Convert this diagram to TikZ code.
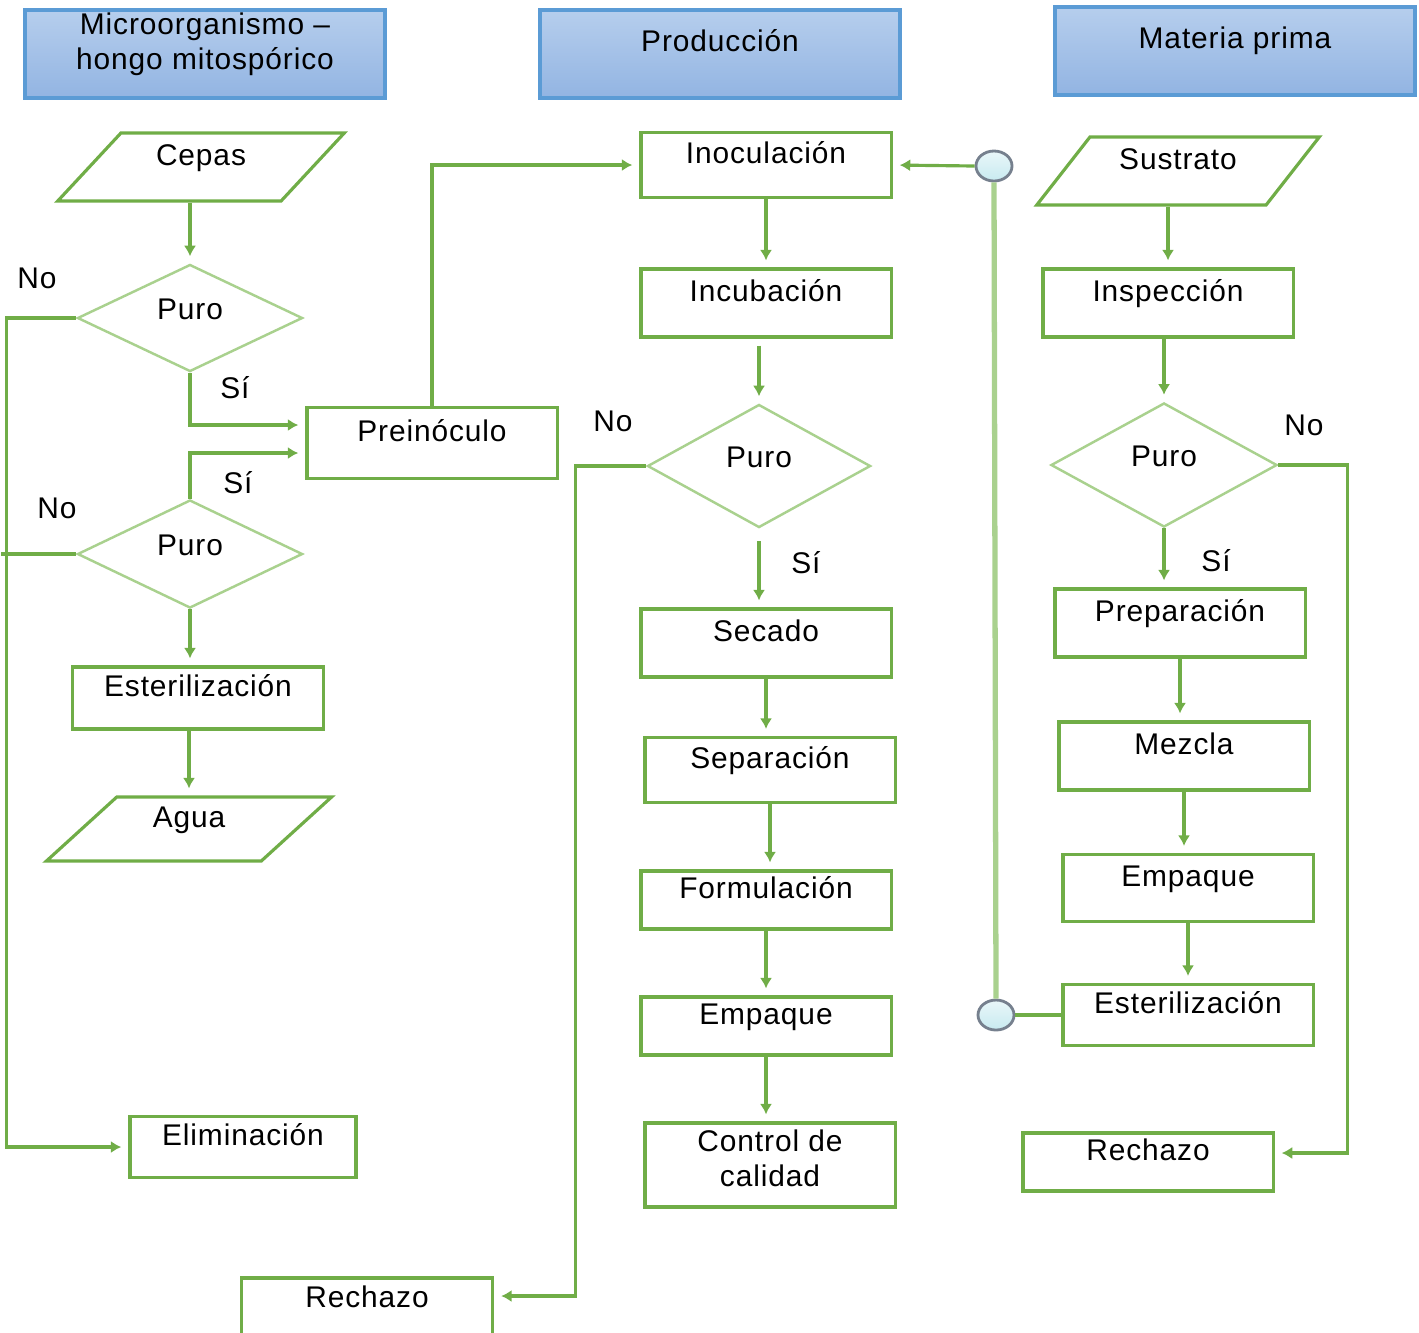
\documentclass[tikz,border=0pt]{standalone}
\usepackage{fontspec}
\setmainfont{Liberation Sans}[LetterSpace=3]
\usepackage{tikz}
\usetikzlibrary{arrows.meta,shapes.geometric}
\definecolor{VerdeLinea}{RGB}{112,173,71}
\definecolor{VerdeClaro}{RGB}{169,209,142}
\definecolor{AzulBorde}{RGB}{91,155,213}
\definecolor{AzulArriba}{RGB}{182,206,237}
\definecolor{AzulAbajo}{RGB}{146,180,226}
\definecolor{GrisCirculo}{RGB}{118,128,142}
\definecolor{CelesteCirculo}{RGB}{200,234,240}

\begin{document}
\begin{tikzpicture}[x=0.01cm,y=-0.01cm,
    font=\fontsize{8.5}{10}\selectfont,
    encabezado/.style={draw=AzulBorde,line width=1.2pt,top color=AzulArriba,bottom color=AzulAbajo,
      minimum width=3.6cm,minimum height=0.88cm,inner sep=0pt,align=center,text depth=7.5pt},
    caja/.style={draw=VerdeLinea,line width=0.9pt,minimum width=2.5cm,inner sep=0pt,text depth=7pt},
    datos/.style={trapezium,trapezium left angle=52,trapezium right angle=128,trapezium stretches=true,
      draw=VerdeLinea,line width=0.9pt,inner sep=0pt,text depth=7pt},
    decision/.style={diamond,draw=VerdeClaro,line width=0.7pt,inner sep=0pt,text depth=5pt},
    conector/.style={ellipse,draw=GrisCirculo,line width=0.8pt,top color=CelesteCirculo!40!white,
      bottom color=CelesteCirculo,minimum width=0.36cm,minimum height=0.3cm,inner sep=0pt},
    flecha/.style={draw=VerdeLinea,line width=0.9pt,-{Latex[length=3pt,width=3.5pt]},shorten >=2pt},
    linea/.style={draw=VerdeLinea,line width=0.9pt}]
  \useasboundingbox (0,0) rectangle (1419,1332);

  % encabezados
  \node[encabezado] (hMicro) at (205,54) {Microorganismo --\\hongo mitospórico};
  \node[encabezado] (hProd) at (720,54) {Producción};
  \node[encabezado] (hMat) at (1235,51) {Materia prima};

  % columna del microorganismo
  \node[datos,minimum width=2.87cm,minimum height=0.68cm] (cepas) at (201,167) {Cepas};
  \node[decision,minimum width=2.25cm,minimum height=1.07cm] (puro1) at (190,318) {Puro};
  \node[decision,minimum width=2.25cm,minimum height=1.08cm] (puro2) at (190,554) {Puro};
  \node[caja,minimum width=2.51cm,minimum height=0.62cm] (ester1) at (198,698) {Esterilización};
  \node[datos,minimum width=2.86cm,minimum height=0.64cm] (agua) at (189,829) {Agua};
  \node[caja,minimum width=2.26cm,minimum height=0.61cm] (elim) at (243,1147) {Eliminación};
  \node[caja,minimum height=0.71cm] (preino) at (432,443) {Preinóculo};
  \node[caja,minimum width=2.51cm,minimum height=0.62cm] (rech1) at (367,1309) {Rechazo};

  % columna de producción
  \node[caja,minimum height=0.65cm] (inoc) at (766,165) {Inoculación};
  \node[caja,minimum height=0.68cm] (incub) at (766,303) {Incubación};
  \node[decision,minimum width=2.23cm,minimum height=1.23cm] (puro3) at (759,466) {Puro};
  \node[caja,minimum height=0.68cm] (secado) at (766,643) {Secado};
  \node[caja,minimum height=0.65cm] (separ) at (770,770) {Separación};
  \node[caja,minimum height=0.58cm] (formul) at (766,900) {Formulación};
  \node[caja,minimum height=0.58cm] (empaq1) at (766,1026) {Empaque};
  \node[caja,minimum height=0.84cm,align=center,text depth=4pt] (control) at (770,1165) {Control de\\calidad};

  % columna de materia prima
  \node[datos,minimum width=2.83cm,minimum height=0.68cm] (sustr) at (1178,171) {Sustrato};
  \node[caja,minimum height=0.68cm] (insp) at (1168,303) {Inspección};
  \node[decision,minimum width=2.26cm,minimum height=1.24cm] (puro4) at (1164,465) {Puro};
  \node[caja,minimum height=0.68cm] (prep) at (1180,623) {Preparación};
  \node[caja,minimum height=0.68cm] (mezcla) at (1184,756) {Mezcla};
  \node[caja,minimum height=0.67cm] (empaq2) at (1188,888) {Empaque};
  \node[caja,minimum height=0.61cm] (ester2) at (1188,1015) {Esterilización};
  \node[caja,minimum height=0.58cm] (rech2) at (1148,1162) {Rechazo};

  % conectores de página
  \node[conector] (con1) at (994,166) {};
  \node[conector] (con2) at (996,1015) {};

  % etiquetas
  \node (no1) at (37,278) {No};
  \node (si1) at (235,388) {Sí};
  \node (si2) at (238,483) {Sí};
  \node (no2) at (57,508) {No};
  \node (no3) at (613,421) {No};
  \node (si3) at (806,563) {Sí};
  \node (no4) at (1304,425) {No};
  \node (si4) at (1216,561) {Sí};

  % flujo del microorganismo
  \draw[flecha] (puro1.north |- cepas.south) -- (puro1.north);
  \draw[flecha] (puro1.west) -- ++(-70,0) |- (elim.west);
  \draw[flecha] (puro1.south) |- ([yshift=0.18cm]preino.west);
  \draw[flecha] (puro2.north) |- ([yshift=-0.1cm]preino.west);
  \draw[linea] (puro2.west) -- ++(-75,0);
  \draw[flecha] (puro2.south) -- (puro2.south |- ester1.north);
  \draw[flecha] (agua.north |- ester1.south) -- (agua.north);
  \draw[flecha] (preino.north) |- (inoc.west);

  % flujo de producción
  \draw[flecha] (inoc.south) -- (incub.north);
  \draw[flecha,shorten <=2pt] (puro3.north |- incub.south) -- (puro3.north);
  \draw[flecha] (puro3.west) -- ++(-71,0) |- ([yshift=0.13cm]rech1.east);
  \draw[flecha,shorten <=3.5pt] (puro3.south) -- (puro3.south |- secado.north);
  \draw[flecha] (secado.south) -- (secado.south |- separ.north);
  \draw[flecha] (separ.south) -- (separ.south |- formul.north);
  \draw[flecha] (formul.south) -- (formul.south |- empaq1.north);
  \draw[flecha] (empaq1.south) -- (empaq1.south |- control.north);

  % flujo de materia prima
  \draw[flecha] (insp.north |- sustr.south) -- (insp.north);
  \draw[flecha] (puro4.north |- insp.south) -- (puro4.north);
  \draw[flecha] (puro4.east) -- ++(69,0) |- ([yshift=0.09cm]rech2.east);
  \draw[flecha] (puro4.south) -- (puro4.south |- prep.north);
  \draw[flecha] (prep.south) -- (prep.south |- mezcla.north);
  \draw[flecha] (mezcla.south) -- (mezcla.south |- empaq2.north);
  \draw[flecha] (empaq2.south) -- (empaq2.south |- ester2.north);

  % enlace entre columnas
  \draw[VerdeClaro,line width=1.5pt] (con1.south) -- (con2.north);
  \draw[flecha] (con1.west) -- (inoc.east);
  \draw[linea] (con2.east) -- (ester2.west);
\end{tikzpicture}
\end{document}
